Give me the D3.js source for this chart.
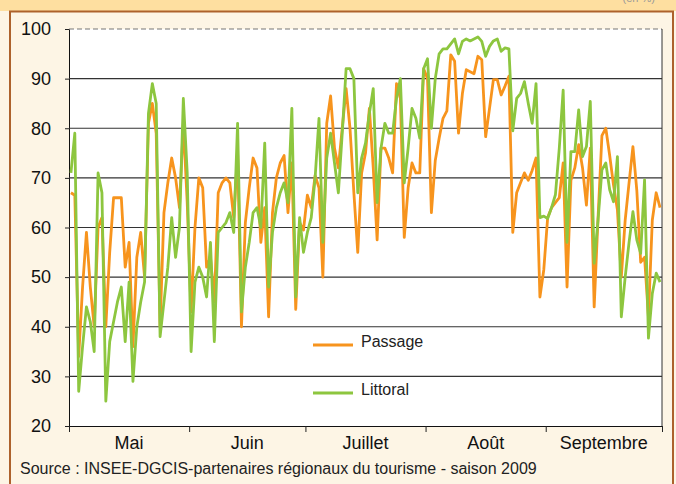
<!DOCTYPE html>
<html>
<head>
<meta charset="utf-8">
<script src="https://cdn.jsdelivr.net/npm/d3@7"></script>
<style>
	body { margin: 0; background: #fdf5e5; }
	svg { display: block; font-family: "Liberation Sans", Arial, sans-serif; }
</style>
</head>
<body>
<div id="vis"></div>
<script>
const WIDTH = 676;
const HEIGHT = 484;
const PLOT = {left: 69, right: 662, top: 29, bottom: 426};

const months = ['Mai', 'Juin', 'Juillet', 'Août', 'Septembre']
const monthDays = [31, 30, 31, 31, 30]
const yTicks = [20, 30, 40, 50, 60, 70, 80, 90, 100]
const seriesNames = ['Passage', 'Littoral']
const seriesColors = ['#f7941d', '#8dc63f']

// daily occupancy rate, 1 May -> 30 Sept
const passage = [
	67, 66.5, 34, 48, 59, 48, 40, 60, 62, 40, 55, 66, 66, 66, 52, 57, 36, 54, 59, 50,
	81, 85, 79, 40, 63, 69, 74, 70, 64, 81, 65, 43, 60, 70, 68, 52, 54, 45, 67, 69,
	70, 69, 62, 75, 40, 61, 68, 74, 72, 57, 64, 42, 63, 70, 73, 74.5, 63, 73, 43.5, 61,
	59.5, 66.5, 64, 70.5, 68, 50, 81, 86.5, 76, 72, 80, 88, 80, 67, 55, 71, 75, 84, 72, 57.5,
	76, 76, 74, 71, 89, 86, 58, 68, 73, 71, 71, 92, 90, 63, 73.5, 78, 82, 83.5, 94.8, 93.5,
	79, 87, 91.8, 91.4, 91, 94.5, 93.8, 78.3, 84, 89.8, 89.8, 86.7, 88.5, 90.5, 59, 67, 69, 71, 69.5, 71.5,
	74, 46, 51.5, 62, 64, 65, 66, 73, 48, 69.5, 72, 76.7, 72, 64.5, 76, 44, 62, 78.5, 80, 74.5,
	68.5, 63.5, 50, 61.5, 69, 76.3, 67.5, 53, 54, 42, 61.5, 67, 64
]
const littoral = [
	71, 79, 27, 36, 44, 41, 35, 71, 67, 25, 37, 41, 45, 48, 37, 49, 29, 40, 45, 49,
	83, 89, 85, 38, 45, 52, 62, 54, 60, 86, 71, 35, 49, 52, 50, 46, 57, 37, 59, 60,
	61, 63, 59, 81, 43, 52, 57, 63, 64, 60, 77, 48, 59, 64, 67, 69, 65, 84, 46, 62,
	55, 59, 62, 70, 82, 57, 74, 79, 73, 67, 79, 92, 92, 90, 67, 74, 77, 83, 88, 65,
	76, 81, 79, 79, 86, 90, 69, 76, 84, 82, 78, 92, 94, 80, 90, 95, 96, 96, 97, 98,
	95, 97.5, 98, 97.6, 98, 98.4, 97.5, 94.5, 96.5, 97.6, 98, 95.5, 96.2, 96, 79.5, 86, 87, 89.4, 85, 81,
	89, 62, 62.3, 61.8, 64, 66.6, 76, 87.7, 57, 75.3, 75.3, 83.7, 74.3, 76.3, 85.4, 52.8, 61.5, 71.6, 73, 67.6,
	65.2, 74.3, 42, 50, 57, 63.2, 57.5, 54.8, 69.6, 37.7, 46.7, 50.8, 49
]

const nDays = d3.sum(monthDays)
const monthStarts = [0].concat(Array.from(d3.cumsum(monthDays)))

let svg = d3.select('#vis')
	.append('svg')
	.attr('width', WIDTH)
	.attr('height', HEIGHT)

// frame
svg.append('rect')
	.attr('x', 0).attr('y', 0).attr('width', WIDTH).attr('height', HEIGHT)
	.attr('fill', '#fdf5e5')
svg.append('rect')
	.attr('x', 0).attr('y', 0).attr('width', WIDTH).attr('height', 11)
	.attr('fill', '#fedfa0')
svg.append('path')
	.attr('d', `M10,${HEIGHT} V11.5 H673 V${HEIGHT}`)
	.attr('fill', 'none')
	.attr('stroke', '#ad622c')
	.attr('stroke-width', 2)
svg.append('text')
	.attr('x', 655).attr('y', 2)
	.attr('text-anchor', 'end')
	.style('font-size', '11px')
	.attr('fill', '#999')
	.text('(en %)')

let x = d3.scalePoint()
	.domain(d3.range(nDays))
	.range([PLOT.left, PLOT.right])
	.padding(0.5)

let xDay = d3.scaleLinear()
	.domain([0, nDays])
	.range([PLOT.left, PLOT.right])

let y = d3.scaleLinear()
	.domain([20, 100])
	.range([PLOT.bottom, PLOT.top])

svg.append('rect')
	.attr('x', PLOT.left).attr('y', PLOT.top)
	.attr('width', PLOT.right - PLOT.left).attr('height', PLOT.bottom - PLOT.top)
	.attr('fill', '#fff')

// y axis with gridlines
let yAxis = d3.axisLeft(y)
	.tickValues(yTicks)
	.tickSize(4)
	.tickPadding(14)

svg.append('g')
	.attr('class', 'y-axis')
	.attr('transform', `translate(${PLOT.left},0)`)
	.call(yAxis)
	.call(g => g.select('.domain').attr('stroke', '#111'))
	.call(g => g.selectAll('.tick line').attr('stroke', '#222'))
	.call(g => g.selectAll('.tick text')
		.style('font-size', '18px')
		.attr('fill', '#111')
		.attr('font-family', '"Liberation Sans", Arial, sans-serif'))

svg.append('g')
	.attr('class', 'grid')
	.selectAll('line')
	.data(yTicks.filter(d => d > 20))
	.enter()
	.append('line')
	.attr('x1', PLOT.left)
	.attr('x2', PLOT.right)
	.attr('y1', d => y(d))
	.attr('y2', d => y(d))
	.attr('stroke', d => d === 100 ? '#777' : '#333')
	.attr('stroke-dasharray', d => d === 100 ? '5,3' : null)
	.attr('stroke-width', 1.2)

// right border
svg.append('line')
	.attr('x1', PLOT.right).attr('x2', PLOT.right)
	.attr('y1', PLOT.top).attr('y2', PLOT.bottom)
	.attr('stroke', '#333')

// x axis: month boundaries, labels centered in each month
let xAxis = d3.axisBottom(xDay)
	.tickValues(monthStarts)
	.tickSize(6)
	.tickFormat('')

svg.append('g')
	.attr('class', 'x-axis')
	.attr('transform', `translate(0,${PLOT.bottom})`)
	.call(xAxis)
	.call(g => g.select('.domain').attr('stroke', '#111'))
	.call(g => g.selectAll('.tick line').attr('stroke', '#222'))

svg.append('g')
	.attr('class', 'month-labels')
	.selectAll('text')
	.data(months)
	.enter()
	.append('text')
	.attr('x', (d, i) => xDay(monthStarts[i] + monthDays[i] / 2))
	.attr('y', 449)
	.attr('text-anchor', 'middle')
	.style('font-size', '18px')
	.attr('fill', '#111')
	.text(d => d)

// series
let line = d3.line()
	.x((d, i) => x(i))
	.y(d => y(d))

const series = [passage, littoral]

svg.append('g')
	.selectAll('path')
	.data(series)
	.enter()
	.append('path')
	.attr('d', d => line(d))
	.attr('fill', 'none')
	.attr('stroke', (d, i) => seriesColors[i])
	.attr('stroke-width', 2.8)
	.attr('stroke-linejoin', 'round')

// legend inside the plot
const legendY = [345, 393]
let legend = svg.append('g').attr('class', 'legend')
legend.selectAll('line')
	.data(seriesNames)
	.enter()
	.append('line')
	.attr('x1', 313).attr('x2', 353)
	.attr('y1', (d, i) => legendY[i])
	.attr('y2', (d, i) => legendY[i])
	.attr('stroke', (d, i) => seriesColors[i])
	.attr('stroke-width', 3)
legend.selectAll('text')
	.data(seriesNames)
	.enter()
	.append('text')
	.attr('x', 361)
	.attr('y', (d, i) => legendY[i] - 2)
	.attr('dominant-baseline', 'middle')
	.style('font-size', '16px')
	.attr('fill', '#222')
	.text(d => d)

// source
svg.append('text')
	.attr('x', 20)
	.attr('y', 474)
	.style('font-size', '16px')
	.attr('fill', '#222')
	.text('Source : INSEE-DGCIS-partenaires régionaux du tourisme - saison 2009')
</script>
</body>
</html>
